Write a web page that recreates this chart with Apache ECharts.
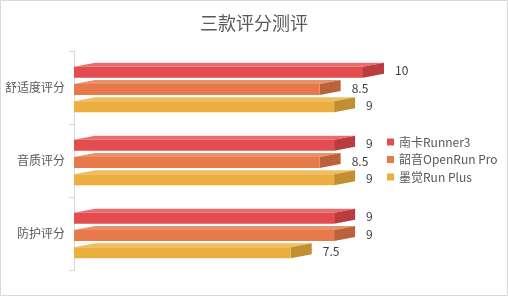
<!DOCTYPE html>
<html>
<head>
<meta charset="utf-8">
<script src="https://cdn.jsdelivr.net/npm/echarts@6/dist/echarts.min.js"></script>
<style>html,body{margin:0;padding:0;background:#fff;}#c{width:508px;height:296px;}</style>
</head>
<body>
<div id="c"></div>
<script>
const categories = ['舒适度评分', '音质评分', '防护评分'];
const seriesNames = ['南卡Runner3', '韶音OpenRun Pro', '墨觉Run Plus'];
const nankaValues = [10, 9, 9];
const shokzValues = [8.5, 8.5, 9];
const mojueValues = [9, 9, 7.5];
const allValues = [nankaValues, shokzValues, mojueValues];

const palette = [
  { front: '#E34D50', top: '#E96C6E', side: '#B93D40' },
  { front: '#E8794B', top: '#EC906C', side: '#BA623C' },
  { front: '#ECAE3F', top: '#EFBE62', side: '#BF8F31' }
];
const FONT = '"Noto Sans CJK SC", "Noto Sans", sans-serif';
const DX = 21, DY = 4, FULL_H = 15, PITCH = 17.2;

function makeRender(si) {
  return function (params, api) {
    const cat = api.value(0);
    const v = api.value(1);
    const p0 = api.coord([0, cat]);
    const p1 = api.coord([v, cat]);
    const cy = p0[1] + (si - 1) * PITCH;
    const x0 = p0[0], x1 = p1[0];
    const topY = cy - FULL_H / 2;
    const fT = topY + DY;
    const fB = cy + FULL_H / 2;
    const c = palette[si];
    return {
      type: 'group',
      children: [
        { type: 'polygon', shape: { points: [[x0, fT], [x0 + DX, fT - DY], [x1 + DX, fT - DY], [x1, fT]] }, style: { fill: c.top } },
        { type: 'polygon', shape: { points: [[x1, fT], [x1 + DX, fT - DY], [x1 + DX, fB - DY], [x1, fB]] }, style: { fill: c.side } },
        { type: 'rect', shape: { x: x0, y: fT, width: x1 - x0, height: fB - fT }, style: { fill: c.front } },
        { type: 'text', style: { text: String(v), x: x1 + DX + 11, y: cy + 0.5, fill: '#404040', fontSize: 12, fontFamily: FONT, align: 'left', verticalAlign: 'middle' } }
      ]
    };
  };
}

const series = seriesNames.map((name, si) => ({
  name: name,
  type: 'custom',
  renderItem: makeRender(si),
  encode: { x: 1, y: 0 },
  itemStyle: { color: palette[si].front },
  data: allValues[si].map((v, i) => [i, v])
}));

const chart = echarts.init(document.getElementById('c'), null, { renderer: 'canvas' });
chart.setOption({
  animation: false,
  title: {
    text: '三款评分测评', left: 'center', top: 9,
    textStyle: { fontSize: 18, fontWeight: 'normal', color: '#595959', fontFamily: FONT }
  },
  legend: {
    orient: 'vertical', left: 382, top: 131,
    itemWidth: 7, itemHeight: 7, itemGap: 5.5,
    icon: 'rect',
    textStyle: { fontSize: 12, color: '#595959', fontFamily: FONT },
    data: seriesNames
  },
  grid: { left: 74, top: 51, width: 289, height: 219, containLabel: false },
  xAxis: {
    type: 'value', min: 0, max: 10,
    show: false
  },
  yAxis: {
    type: 'category', data: categories, inverse: true,
    axisLine: { show: true, lineStyle: { color: '#d9d9d9' } },
    axisTick: { show: true, length: 5, lineStyle: { color: '#d9d9d9' } },
    axisLabel: { margin: 9, fontSize: 12, color: '#595959', fontFamily: FONT }
  },
  graphic: [{
    type: 'rect', shape: { x: 0.5, y: 0.5, width: 507, height: 295 },
    style: { fill: 'none', stroke: '#d9d9d9', lineWidth: 1 }, silent: true
  }],
  series: series
});
</script>
</body>
</html>
